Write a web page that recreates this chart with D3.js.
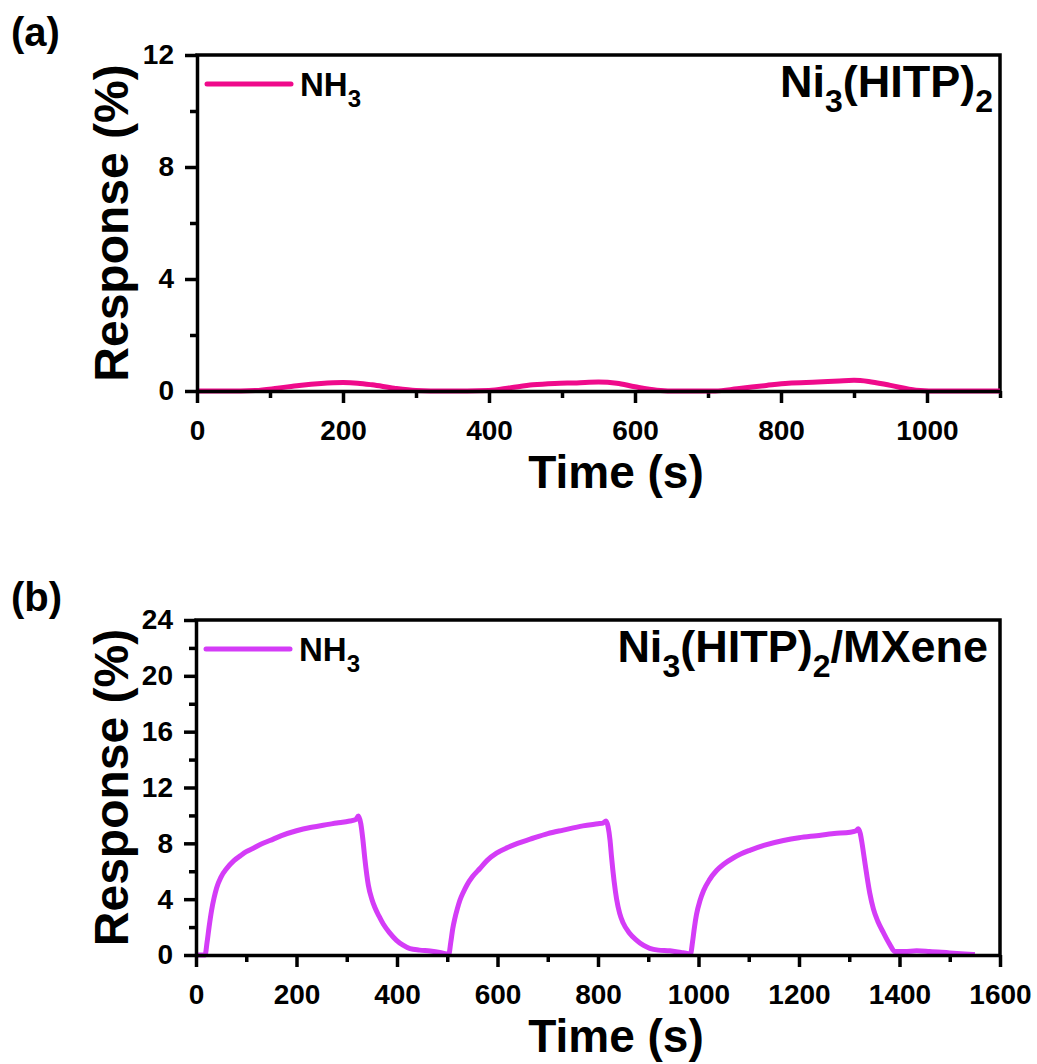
<!DOCTYPE html>
<html>
<head>
<meta charset="utf-8">
<script src="https://cdn.jsdelivr.net/npm/d3@7"></script>
<style>
  body { margin: 0; background: white; }
  text { font-family: "Liberation Sans", Arial, sans-serif; font-weight: bold; fill: black; }
</style>
</head>
<body>
<div class="chart"></div>
<script>
// panel (a): Ni3(HITP)2
var timeA = [0, 40, 80, 110, 140, 170, 200, 220, 240, 270, 300, 340, 400, 430, 460, 490,
    520, 550, 575, 600, 630, 660, 710, 740, 780, 810, 850, 880, 900, 920, 950, 985, 1020, 1100];
var respA = [0, 0, 0.02, 0.1, 0.2, 0.27, 0.3, 0.28, 0.22, 0.1, 0.02, 0, 0.02, 0.12, 0.22, 0.27,
    0.29, 0.32, 0.28, 0.15, 0.03, 0, 0, 0.08, 0.2, 0.28, 0.32, 0.36, 0.38, 0.34, 0.2, 0.03, 0, 0];

// panel (b): Ni3(HITP)2/MXene
var timeB = [0, 18, 22, 26, 31, 36, 41, 50, 61, 75, 88, 100, 114, 130, 147, 170, 200, 230, 253,
    280, 306, 318, 323, 328, 332, 336, 343, 350, 356, 364, 373, 385, 399, 412, 426, 445, 466, 485,
    499, 503, 507, 511, 515, 520, 525, 532, 539, 550, 565, 580, 598, 620, 640, 665, 700, 731, 770,
    800, 810, 816, 820, 824, 827, 832, 837, 843, 850, 862, 877, 890, 903, 920, 943, 965, 979, 984,
    988, 992, 996, 1003, 1010, 1022, 1036, 1050, 1069, 1085, 1102, 1130, 1169, 1200, 1235, 1270,
    1302, 1314, 1318, 1322, 1325, 1330, 1335, 1341, 1348, 1357, 1368, 1380, 1391, 1410, 1434,
    1460, 1500, 1530, 1550];
var respB = [0, 0, 0.9, 2.0, 3.2, 4.1, 4.8, 5.6, 6.2, 6.75, 7.1, 7.4, 7.65, 7.95, 8.2, 8.55, 8.9,
    9.15, 9.3, 9.45, 9.6, 9.7, 9.95, 9.4, 8.3, 6.9, 5.0, 4.0, 3.4, 2.8, 2.2, 1.6, 1.05, 0.7, 0.45,
    0.35, 0.28, 0.18, 0.07, 0.05, 0.9, 1.9, 2.6, 3.3, 3.9, 4.5, 5.0, 5.6, 6.2, 6.8, 7.3, 7.7, 8.0,
    8.3, 8.7, 8.95, 9.25, 9.4, 9.45, 9.6, 9.2, 8.2, 7.0, 5.3, 4.0, 3.0, 2.3, 1.6, 1.05, 0.7, 0.48,
    0.35, 0.3, 0.18, 0.1, 0.05, 0.9, 2.0, 2.9, 3.9, 4.6, 5.4, 6.05, 6.5, 6.95, 7.25, 7.5, 7.85,
    8.2, 8.4, 8.55, 8.7, 8.8, 8.9, 9.05, 8.7, 8.1, 6.9, 5.7, 4.4, 3.3, 2.4, 1.6, 0.8, 0.25, 0.25,
    0.3, 0.25, 0.15, 0.08, 0.03];

var xTicksA = [0, 200, 400, 600, 800, 1000];
var xMinorA = [100, 300, 500, 700, 900, 1100];
var yTicksA = [0, 4, 8, 12];
var yMinorA = [2, 6, 10];

var xTicksB = [0, 200, 400, 600, 800, 1000, 1200, 1400, 1600];
var xMinorB = [100, 300, 500, 700, 900, 1100, 1300, 1500];
var yTicksB = [0, 4, 8, 12, 16, 20, 24];
var yMinorB = [2, 6, 10, 14, 18, 22];

var seriesName = [["NH", 0], ["3", 1]];
var titleA = [["Ni", 0], ["3", 1], ["(HITP)", 0], ["2", 1]];
var titleB = [["Ni", 0], ["3", 1], ["(HITP)", 0], ["2", 1], ["/MXene", 0]];

var svg = d3.select(".chart")
    .append("svg")
    .attr("width", 1037)
    .attr("height", 1064);

function styleAxis(g) {
    g.select(".domain").attr("stroke", "black").attr("stroke-width", 3.5);
    g.selectAll(".tick line").attr("stroke", "black").attr("stroke-width", 3.5);
    g.selectAll(".tick text")
        .style("font-family", "'Liberation Sans', Arial, sans-serif")
        .style("font-weight", "bold")
        .style("font-size", "28px")
        .attr("fill", "black");
}

function richText(g, parts, size) {
    var t = g.append("text").style("font-size", size + "px");
    var shift = Math.round(size * 0.33);
    var prevSub = false;
    parts.forEach(function(p) {
        var sp = t.append("tspan").text(p[0]);
        if (p[1]) {
            sp.attr("dy", shift).style("font-size", Math.round(size * 0.72) + "px");
        } else if (prevSub) {
            sp.attr("dy", -shift);
        }
        prevSub = !!p[1];
    });
    return t;
}

function drawPanel(o) {
    var g = svg.append("g");
    var x = d3.scaleLinear().domain(o.xDomain).range([o.left, o.right]);
    var y = d3.scaleLinear().domain(o.yDomain).range([o.bottom, o.top]);

    g.append("g")
        .attr("transform", "translate(0," + o.bottom + ")")
        .call(d3.axisBottom(x).tickValues(o.xMinor).tickSize(7).tickFormat(""))
        .call(styleAxis)
        .select(".domain").remove();
    g.append("g")
        .attr("transform", "translate(" + o.left + ",0)")
        .call(d3.axisLeft(y).tickValues(o.yMinor).tickSize(7).tickFormat(""))
        .call(styleAxis)
        .select(".domain").remove();

    // top and right frame
    g.append("path")
        .attr("d", "M" + o.left + "," + o.top + "H" + o.right + "V" + o.bottom)
        .attr("fill", "none")
        .attr("stroke", "black")
        .attr("stroke-width", 3.5)
        .attr("stroke-linecap", "square");

    var line = d3.line()
        .x(function(d) { return x(d[0]); })
        .y(function(d) { return y(d[1]); })
        .curve(d3.curveMonotoneX);

    g.append("path")
        .datum(d3.zip(o.time, o.resp))
        .attr("d", line)
        .attr("fill", "none")
        .attr("stroke", o.color)
        .attr("stroke-width", 5)
        .attr("stroke-linejoin", "round");

    g.append("g")
        .attr("transform", "translate(0," + o.bottom + ")")
        .call(d3.axisBottom(x).tickValues(o.xTicks).tickFormat(d3.format("d"))
            .tickSize(12).tickSizeOuter(0).tickPadding(17))
        .call(styleAxis);
    g.append("g")
        .attr("transform", "translate(" + o.left + ",0)")
        .call(d3.axisLeft(y).tickValues(o.yTicks).tickSize(12).tickSizeOuter(0).tickPadding(11))
        .call(styleAxis);

    // legend
    g.append("line")
        .attr("x1", o.left + 10)
        .attr("x2", o.left + 94)
        .attr("y1", o.top + 29)
        .attr("y2", o.top + 29)
        .attr("stroke", o.color)
        .attr("stroke-width", 5)
        .attr("stroke-linecap", "round");
    richText(g, seriesName, 33)
        .attr("x", o.left + 103)
        .attr("y", o.top + 41);

    richText(g, o.title, 45)
        .attr("x", o.titleX)
        .attr("y", o.top + 42)
        .style("text-anchor", "end");

    g.append("text")
        .attr("x", 616)
        .attr("y", o.bottom + 97)
        .style("font-size", "46px")
        .style("text-anchor", "middle")
        .text("Time (s)");

    g.append("text")
        .attr("transform", "translate(128," + ((o.top + o.bottom) / 2) + ") rotate(-90)")
        .style("font-size", "48px")
        .style("text-anchor", "middle")
        .text("Response (%)");

    g.append("text")
        .attr("x", 11)
        .attr("y", o.top - 9)
        .style("font-size", "40px")
        .text(o.label);
}

drawPanel({
    label: "(a)", title: titleA, titleX: 993, color: "#EF0A8B",
    time: timeA, resp: respA,
    xDomain: [0, 1100], yDomain: [0, 12],
    xTicks: xTicksA, xMinor: xMinorA, yTicks: yTicksA, yMinor: yMinorA,
    left: 197, right: 1000, top: 55, bottom: 391
});

drawPanel({
    label: "(b)", title: titleB, titleX: 988, color: "#D43CF7",
    time: timeB, resp: respB,
    xDomain: [0, 1600], yDomain: [0, 24],
    xTicks: xTicksB, xMinor: xMinorB, yTicks: yTicksB, yMinor: yMinorB,
    left: 196, right: 1000, top: 620, bottom: 955
});
</script>
</body>
</html>
